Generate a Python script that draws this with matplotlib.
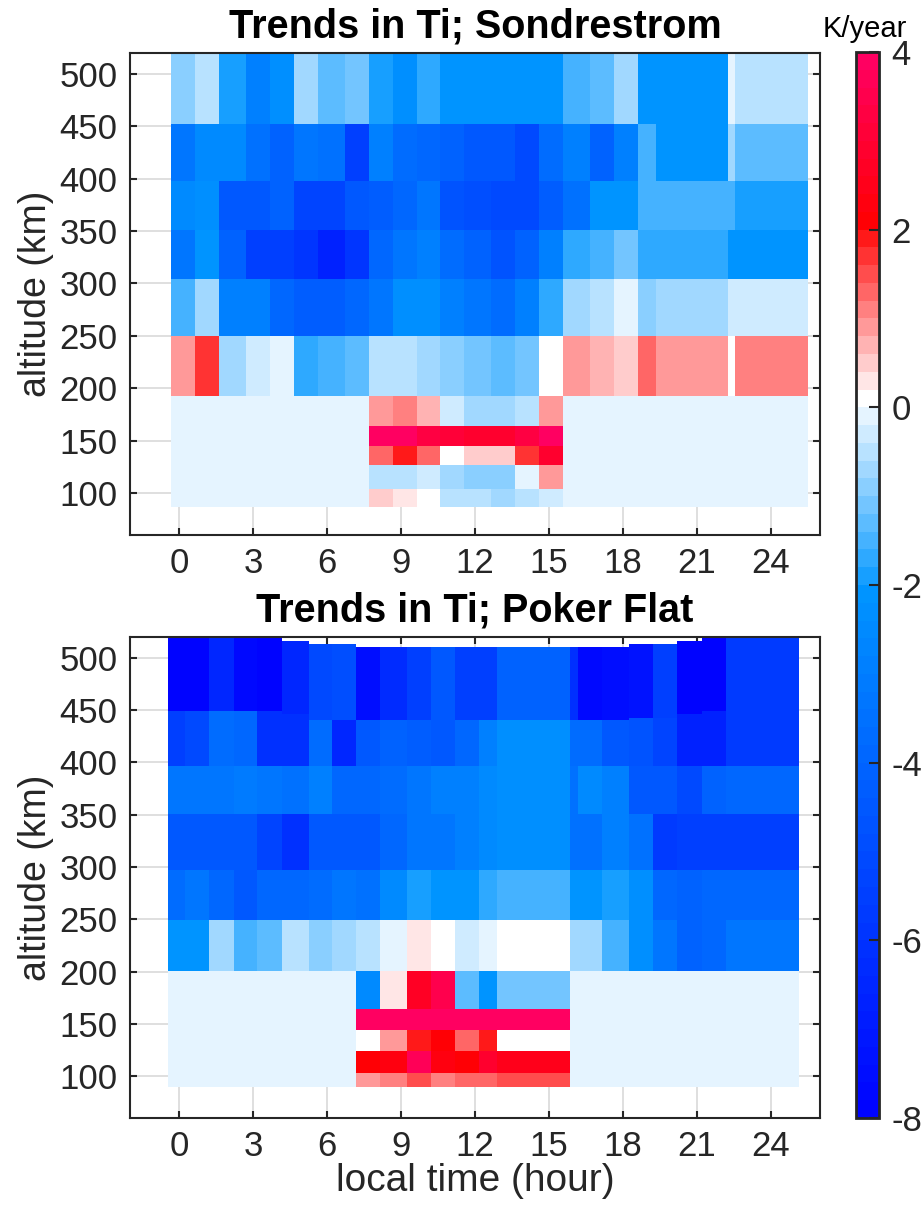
import numpy as np
import matplotlib
matplotlib.use("Agg")
import matplotlib.pyplot as plt
from matplotlib.colors import ListedColormap, Normalize

plt.rcParams['font.family'] = ['Liberation Sans', 'DejaVu Sans']
plt.rcParams['axes.unicode_minus'] = False

INK = '#262626'

# ==========================
# Sondrestrom: local-time bins (edges, hour) and altitude bins (edges, km)
# ==========================
SON_HOURS = [-0.33, 0.63, 1.61, 2.71, 3.67, 4.64, 5.62, 6.71, 7.68, 8.66, 9.63, 10.59,
             11.57, 12.63, 13.61, 14.59, 15.58, 16.66, 17.64, 18.62, 19.34, 22.28, 22.54, 25.5]
SON_ALT = [87, 104, 127, 144.5, 164, 193, 250, 304, 351, 397.5, 452, 525]

# trend in K/year, rows from lowest altitude bin upwards
SON_TREND = [
    [-0.1] * 8 + [0.5, 0.3, 0.1, -0.5, -0.5, -0.7, -0.5, -0.3] + [-0.1] * 7,
    [-0.1] * 8 + [-0.5, -0.5, -0.3, -0.7, -0.9, -0.9, -0.1, 0.9] + [-0.1] * 7,
    [-0.1] * 8 + [1.3, 1.9, 1.3, 0.1, 0.5, 0.5, 1.7, 2.95] + [-0.1] * 7,
    [-0.1] * 8 + [3.95, 3.95, 3.25, 3.0, 2.8, 2.8, 3.25, 3.95] + [-0.1] * 7,
    [-0.1] * 8 + [0.9, 1.1, 0.7, -0.3, -0.7, -0.7, -0.5, 0.9] + [-0.1] * 7,
    [0.9, 1.7, -0.7, -0.3, -0.1, -1.7, -1.5, -1.3, -0.5, -0.5, -0.7, -0.9,
     -1.1, -1.3, -1.1, 0.1, 0.9, 0.7, 0.5, 1.3, 0.9, 0.1, 1.1],
    [-1.5, -0.7, -2.9, -2.9, -3.85, -4.3, -4.3, -4.0, -3.2, -2.25, -2.25, -2.9,
     -3.2, -3.7, -2.9, -1.7, -0.7, -0.5, -0.1, -0.9, -0.7, -0.3, -0.3],
    [-3.2, -2.1, -4.15, -5.45, -5.45, -5.9, -6.7, -5.9, -3.95, -3.3, -2.9, -3.7,
     -4.15, -4.8, -4.15, -2.9, -1.7, -1.5, -1.1, -1.7, -1.7, -2.1, -2.1],
    [-2.55, -2.25, -4.5, -4.6, -4.15, -5.25, -5.25, -4.5, -4.4, -3.95, -3.2, -4.8,
     -4.95, -5.1, -5.1, -4.3, -3.5, -2.1, -2.1, -1.5, -1.5, -1.5, -1.9],
    [-3.2, -2.4, -2.55, -3.5, -4.15, -3.2, -3.5, -5.45, -2.9, -3.75, -3.85, -4.15,
     -4.5, -4.6, -5.1, -3.7, -2.9, -4.15, -2.9, -1.5, -2.1, -0.7, -1.3],
    [-0.9, -0.5, -1.9, -2.9, -2.25, -0.7, -1.3, -1.1, -1.9, -2.25, -1.7, -2.1,
     -2.1, -2.1, -2.05, -2.05, -1.5, -1.3, -0.7, -2.1, -2.1, -0.1, -0.5],
]

# ==========================
# Poker Flat: the two highest bins have per-column edges
# ==========================
PKR_HOURS = [-0.45, 0.25, 1.22, 2.2, 3.17, 4.15, 5.25, 6.21, 7.19, 8.16, 9.25, 10.23,
             11.2, 12.18, 12.9, 15.86, 16.17, 17.16, 18.25, 19.22, 20.2, 21.21, 22.19, 25.15]
PKR_ALT = [89.5, 103, 123.6, 143.7, 163.8, 201, 249, 297, 351, 397]
PKR_SPLIT = [449, 449, 449, 449, 449, 446, 440.5, 440.5, 440.5, 440.5, 440.5, 440.5,
             440.5, 440.5, 440.5, 440.5, 440.5, 440.5, 443, 443, 446, 449, 449]
PKR_TOP = [521, 521, 521, 521, 521, 516, 513, 513, 510.5, 510.5, 510.5, 510.5,
           510.5, 510.5, 510.5, 510.5, 510.5, 510.5, 513, 513, 516, 521, 521]

PKR_TREND = [
    [-0.1] * 8 + [0.9, 1.1, 1.5, 1.1, 1.3, 1.3, 1.5] + [-0.1] * 8,
    [-0.1] * 8 + [2.1, 2.3, 3.6, 2.3, 2.1, 2.9, 2.5] + [-0.1] * 8,
    [-0.1] * 8 + [0.1, 0.9, 1.9, 2.1, 1.3, 1.9, 0.1] + [-0.1] * 8,
    [-0.1] * 8 + [3.95] * 7 + [-0.1] * 8,
    [-0.1] * 8 + [-2.4, 0.3, 2.65, 3.55, -1.3, -2.05, -1.1] + [-0.1] * 8,
    [-2.05, -2.05, -0.7, -1.5, -1.3, -0.5, -0.9, -0.7, -0.5, -0.1, 0.3, 0.1,
     -0.3, -0.1, 0.1, -0.7, -0.7, -1.5, -2.25, -3.2, -4.15, -3.85, -3.2],
    [-3.7, -3.3, -3.85, -4.6, -3.85, -3.85, -3.7, -3.2, -3.5, -2.55, -1.9, -2.05,
     -2.05, -1.7, -1.5, -2.05, -2.05, -1.9, -2.25, -3.85, -4.15, -3.85, -3.85],
    [-4.5, -4.6, -4.6, -4.6, -5.25, -6.1, -4.5, -4.5, -4.5, -3.85, -3.2, -3.2,
     -2.9, -2.55, -2.25, -3.5, -3.5, -2.9, -3.5, -5.75, -5.45, -5.45, -5.45],
    [-3.2, -3.2, -3.2, -3.05, -3.2, -3.5, -2.9, -3.85, -3.85, -3.7, -3.2, -2.9,
     -2.9, -2.55, -2.25, -3.5, -2.55, -2.9, -4.5, -4.5, -5.1, -4.15, -3.85],
    [-5.45, -5.1, -3.7, -3.95, -6.1, -6.1, -3.7, -6.4, -4.5, -4.15, -4.4, -4.5,
     -3.95, -2.9, -2.25, -3.75, -3.75, -4.6, -4.8, -5.25, -6.7, -6.7, -5.75],
    [-7.9, -7.9, -6.4, -7.7, -7.9, -6.5, -5.1, -5.0, -7.6, -6.3, -5.5, -4.5,
     -5.45, -5.45, -4.15, -6.1, -7.7, -7.4, -7.3, -5.45, -7.9, -7.9, -5.75],
]

X_TICKS = [0, 3, 6, 9, 12, 15, 18, 21, 24]
Y_TICKS = [100, 150, 200, 250, 300, 350, 400, 450, 500]
CB_TICKS = [-8, -6, -4, -2, 0, 2, 4]
VMIN, VMAX = -8, 4


def trend_cmap():
    # 0.2 K/year steps: deep blue ramp, stepped sky-blue to white, white to red, red to crimson
    cols = []
    for i in range(30):
        cols.append((0.0, 5 * (i + 0.5) / 255, 1.0))
    sky = np.array([0, 150, 255]) / 255
    for k in range(10):
        t = 0.09 * (k + 1)
        cols.append(tuple(sky * (1 - t) + t))
    for k in range(10):
        t = k / 10
        cols.append((1.0, 1 - t, 1 - t))
    for k in range(10):
        cols.append((1.0, 0.0, 102 * (k + 0.5) / 10 / 255))
    return ListedColormap(cols)


def style_axes(ax, title):
    ax.set_axisbelow(True)
    ax.grid(True, color='#dcdcdc', linewidth=1.3)
    ax.set_xlim(-2, 26)
    ax.set_ylim(60, 520)
    ax.set_xticks(X_TICKS)
    ax.set_yticks(Y_TICKS)
    ax.tick_params(direction='in', length=5, width=1.5, top=True, right=True,
                   labelsize=25, colors=INK, pad=9)
    for sp in ax.spines.values():
        sp.set_linewidth(1.5)
        sp.set_color(INK)
    ax.set_ylabel('altitude (km)', fontsize=27, color=INK, labelpad=4)
    ax.set_title(title, fontsize=28.5, fontweight='bold', pad=11)


cmap = trend_cmap()
norm = Normalize(VMIN, VMAX)

fig = plt.figure(figsize=(9.22, 12.06), dpi=100)
ax1 = fig.add_axes([0.141, 0.5564, 0.7484, 0.3997])
ax2 = fig.add_axes([0.141, 0.0730, 0.7484, 0.3988])
cax = fig.add_axes([0.9284, 0.0730, 0.0249, 0.8839])

mesh = ax1.pcolormesh(SON_HOURS, SON_ALT, np.array(SON_TREND), cmap=cmap, norm=norm,
                      edgecolors='none', antialiased=False)
style_axes(ax1, 'Trends in Ti; Sondrestrom')

pkr = np.array(PKR_TREND)
for j in range(pkr.shape[1]):
    edges = PKR_ALT + [PKR_SPLIT[j], PKR_TOP[j]]
    ax2.pcolormesh(PKR_HOURS[j:j + 2], edges, pkr[:, j:j + 1], cmap=cmap, norm=norm,
                   edgecolors='none', antialiased=False)
style_axes(ax2, 'Trends in Ti; Poker Flat')
ax2.set_xlabel('local time (hour)', fontsize=28, color=INK, labelpad=0)

cb = fig.colorbar(mesh, cax=cax, ticks=CB_TICKS)
cb.ax.tick_params(direction='in', length=7, width=1.5, labelsize=25, colors=INK, pad=9)
cb.outline.set_linewidth(2)
cb.outline.set_edgecolor(INK)
fig.text(0.938, 1 - 37 / 1206, 'K/year', fontsize=21, ha='center', va='baseline')

fig.savefig('out.png', dpi=100)
